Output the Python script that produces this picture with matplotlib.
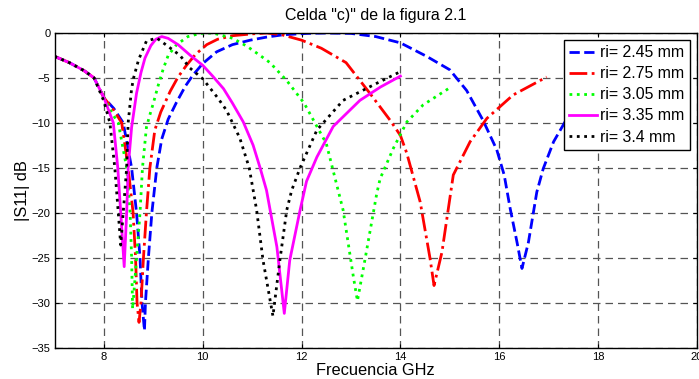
import matplotlib
matplotlib.use("Agg")
import matplotlib.pyplot as plt

plt.rcParams['font.family'] = ['Liberation Sans', 'DejaVu Sans']

labels = ["ri= 2.45 mm", "ri= 2.75 mm", "ri= 3.05 mm", "ri= 3.35 mm", "ri= 3.4 mm"]

f_245 = [7.0, 7.3, 7.6, 7.8, 8.0, 8.2, 8.39, 8.56, 8.66, 8.73, 8.77, 8.82, 8.84, 8.90, 8.97, 9.07,
         9.17, 9.30, 9.47, 9.65, 9.80, 10.0, 10.28, 10.6, 10.96, 11.3, 11.63, 12.1, 12.5, 13.0,
         13.5, 14.0, 14.53, 15.0, 15.34, 15.67, 15.95, 16.1, 16.22, 16.36, 16.46, 16.59, 16.76,
         16.89, 17.1, 17.33, 17.6, 17.9]
s_245 = [-2.6, -3.3, -4.2, -5.0, -7.2, -8.4, -10.0, -15.0, -20.0, -25.0, -30.0, -33.1, -30.0, -25.0,
         -20.0, -15.0, -11.8, -9.6, -7.7, -5.9, -4.7, -3.4, -2.1, -1.3, -0.8, -0.45, -0.2, -0.05,
         0.0, -0.05, -0.4, -1.1, -2.6, -4.1, -6.4, -9.7, -13.0, -15.8, -19.5, -23.3, -26.2, -23.3,
         -17.7, -15.1, -12.1, -9.9, -7.8, -6.0]

f_275 = [7.0, 7.3, 7.6, 7.8, 8.0, 8.2, 8.36, 8.49, 8.59, 8.64, 8.67, 8.71, 8.75, 8.80, 8.86, 8.93,
         9.03, 9.15, 9.34, 9.50, 9.67, 9.85, 10.08, 10.3, 10.61, 11.0, 11.3, 11.6, 12.0, 12.4, 12.9,
         13.38, 13.79, 14.0, 14.13, 14.4, 14.6, 14.68, 14.84, 15.07, 15.41, 15.75, 16.28, 16.96]
s_275 = [-2.6, -3.3, -4.2, -5.0, -7.2, -8.6, -10.0, -15.0, -20.0, -25.0, -30.0, -32.2, -30.0, -25.0,
         -20.0, -15.0, -10.8, -8.8, -6.5, -4.9, -3.6, -2.4, -1.3, -0.7, -0.3, -0.1, 0.0, -0.2,
         -0.8, -1.7, -3.3, -6.7, -9.7, -11.4, -13.4, -18.8, -25.1, -28.1, -24.4, -15.8, -12.1,
         -9.5, -6.9, -4.9]

f_305 = [7.0, 7.3, 7.6, 7.8, 8.0, 8.15, 8.29, 8.46, 8.53, 8.56, 8.58, 8.62, 8.66, 8.73, 8.78, 8.86,
         8.93, 9.0, 9.1, 9.2, 9.3, 9.47, 9.7, 9.95, 10.2, 10.61, 10.9, 11.16, 11.36, 11.7, 12.05,
         12.5, 12.84, 13.05, 13.13, 13.28, 13.52, 13.59, 13.86, 14.13, 14.46, 14.97]
s_305 = [-2.6, -3.3, -4.2, -5.0, -7.2, -8.8, -10.0, -15.0, -20.0, -25.0, -30.7, -28.0, -25.0, -20.0,
         -15.0, -10.5, -9.1, -7.8, -5.8, -4.0, -2.5, -1.3, -0.4, -0.05, 0.0, -0.6, -1.5, -2.5, -3.3,
         -5.3, -7.8, -12.3, -19.7, -27.2, -29.8, -25.3, -17.9, -16.2, -12.8, -9.9, -8.0, -6.2]

f_335 = [7.0, 7.3, 7.6, 7.8, 8.0, 8.19, 8.28, 8.34, 8.41, 8.46, 8.49, 8.56, 8.66, 8.75, 8.83, 8.95,
         9.05, 9.17, 9.3, 9.5, 9.75, 10.0, 10.2, 10.42, 10.6, 10.82, 11.02, 11.16, 11.29, 11.5,
         11.65, 11.76, 11.97, 12.1, 12.31, 12.64, 13.18, 13.6, 14.0]
s_335 = [-2.6, -3.3, -4.2, -5.0, -7.2, -10.0, -15.0, -20.0, -26.0, -20.0, -15.0, -10.5, -6.7, -4.4,
         -2.8, -1.4, -0.7, -0.4, -0.6, -1.3, -2.5, -3.6, -4.8, -6.2, -7.8, -9.9, -12.5, -15.0,
         -17.5, -23.8, -31.2, -25.3, -19.7, -16.5, -13.8, -10.4, -7.5, -6.0, -4.8]

f_340 = [7.0, 7.3, 7.6, 7.8, 8.0, 8.12, 8.22, 8.29, 8.34, 8.39, 8.46, 8.49, 8.56, 8.6, 8.7, 8.86,
         9.07, 9.3, 9.54, 9.74, 10.0, 10.3, 10.48, 10.75, 10.94, 11.02, 11.09, 11.22, 11.42, 11.56,
         11.70, 11.80, 11.97, 12.31, 12.84, 13.52, 14.0]
s_340 = [-2.6, -3.3, -4.2, -5.0, -7.6, -10.0, -15.0, -20.0, -23.6, -20.0, -15.0, -10.0, -6.2, -5.0,
         -3.0, -0.9, -0.57, -1.5, -2.5, -3.9, -5.1, -7.2, -8.6, -11.7, -15.0, -17.5, -19.7, -25.3,
         -31.5, -25.3, -19.7, -17.5, -15.0, -10.8, -7.5, -5.6, -4.3]

x_ticks = [8, 10, 12, 14, 16, 18, 20]
y_ticks = [0, -5, -10, -15, -20, -25, -30, -35]

fig = plt.figure(figsize=(6.99, 3.79), dpi=100)
ax = fig.add_axes([0.078, 0.083, 0.919, 0.830])

ax.grid(True, color='#555555', linestyle=(0, (6, 4)), linewidth=0.9)
ax.set_axisbelow(True)

ax.plot(f_245, s_245, color='#0000ff', linestyle='--', linewidth=2.0, label=labels[0])
ax.plot(f_275, s_275, color='#ff0000', linestyle='-.', linewidth=2.0, label=labels[1])
ax.plot(f_305, s_305, color='#00ff00', linestyle=':', linewidth=2.0, label=labels[2])
ax.plot(f_335, s_335, color='#ff00ff', linestyle='-', linewidth=2.0, label=labels[3])
ax.plot(f_340, s_340, color='#000000', linestyle=':', linewidth=2.0, label=labels[4])

ax.set_xlim(7, 20)
ax.set_ylim(-35, 0)
ax.set_xticks(x_ticks)
ax.set_yticks(y_ticks)
ax.tick_params(direction='in', length=3, labelsize=8, top=True, right=True, pad=3)
for s in ax.spines.values():
    s.set_linewidth(1.0)

ax.set_title('Celda "c)" de la figura 2.1', fontsize=11.5, pad=9)
ax.set_xlabel('Frecuencia GHz', fontsize=11.8, labelpad=1)
ax.set_ylabel('|S11| dB', fontsize=11.8, labelpad=1)

leg = ax.legend(loc='upper right', bbox_to_anchor=(0.989, 0.978), borderaxespad=0,
                fontsize=11.4, frameon=True, fancybox=False, edgecolor='black',
                handlelength=1.75, handletextpad=0.2, labelspacing=0.38, borderpad=0.35)
leg.get_frame().set_linewidth(1.0)
leg.get_frame().set_alpha(1.0)

fig.savefig('out.png', dpi=100)
